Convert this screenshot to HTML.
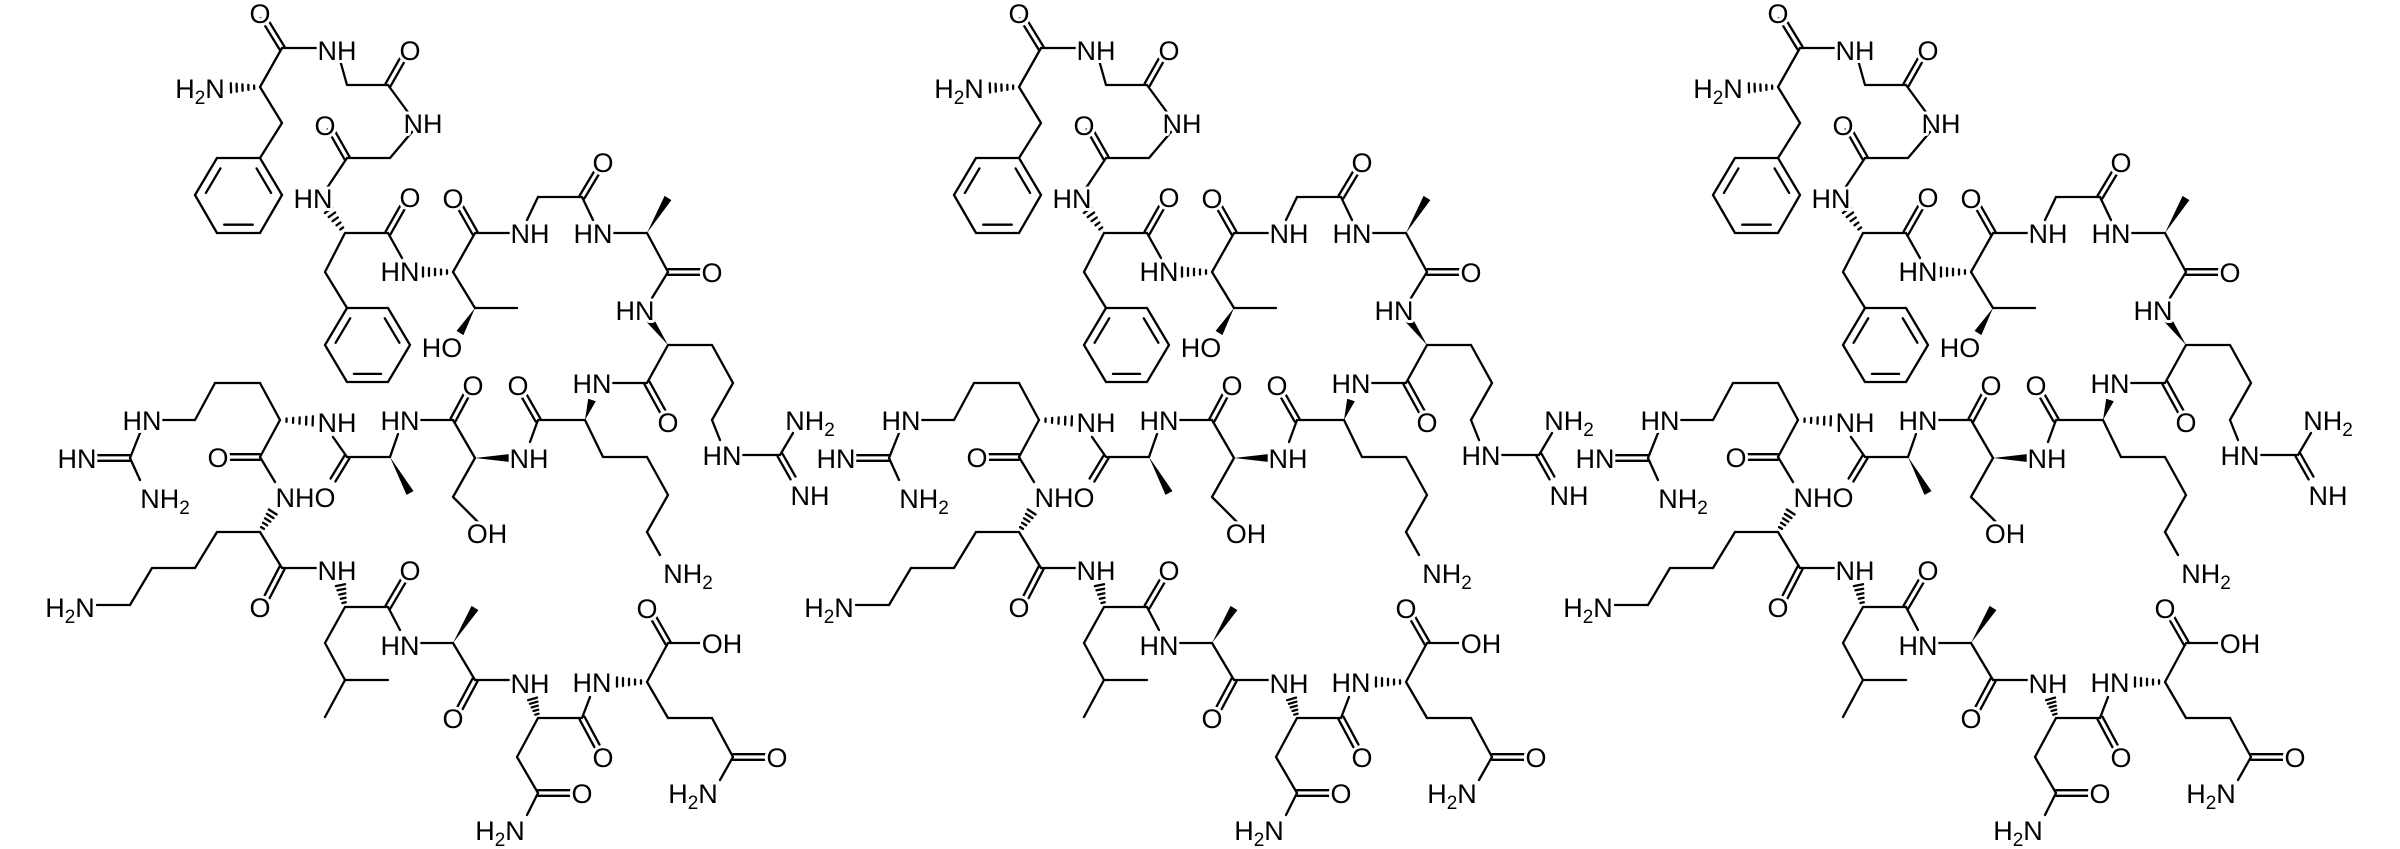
<!DOCTYPE html>
<html><head><meta charset="utf-8"><style>
html,body{margin:0;padding:0;background:#fff;}
svg{display:block;}
text{font-family:"Liberation Sans",Arial,sans-serif;font-size:27px;fill:#000;text-anchor:middle;stroke:#fff;stroke-width:6px;paint-order:stroke;stroke-linejoin:round;}
tspan.s{font-size:19px;}
</style></head><body>
<svg xmlns="http://www.w3.org/2000/svg" width="2400" height="849" viewBox="0 0 2400 849">
<rect width="2400" height="849" fill="#fff"/>
<g id="b" stroke="#000" stroke-width="2.3" fill="none" stroke-linecap="round"></g>
<g id="t0">
<text x="200" y="98">H<tspan class="s" dy="6">2</tspan><tspan dy="-6">N</tspan></text>
<text x="260" y="23">O</text><text x="337" y="60">NH</text><text x="410" y="60">O</text>
<text x="423" y="133">NH</text><text x="325" y="135">O</text><text x="313" y="208">HN</text>
<text x="410" y="207">O</text><text x="453" y="208">O</text><text x="400" y="281">HN</text>
<text x="530" y="243">NH</text><text x="603" y="172">O</text><text x="593" y="243">HN</text>
<text x="712" y="282">O</text><text x="635" y="320">HN</text><text x="442" y="357">HO</text>
<text x="473" y="395">O</text><text x="518" y="395">O</text><text x="592" y="393">HN</text>
<text x="668" y="432">O</text><text x="722" y="465">HN</text>
<text x="810" y="430">NH<tspan class="s" dy="6">2</tspan></text><text x="810" y="505">NH</text>
<text x="142" y="430">HN</text><text x="77" y="468">HN</text>
<text x="165" y="508">NH<tspan class="s" dy="6">2</tspan></text>
<text x="218" y="467">O</text><text x="295" y="507">NH</text><text x="325" y="507">O</text>
<text x="337" y="432">NH</text>
<text x="400" y="430">HN</text><text x="529" y="468">NH</text><text x="487" y="543">OH</text>
<text x="688" y="583">NH<tspan class="s" dy="6">2</tspan></text>
<text x="70" y="617">H<tspan class="s" dy="6">2</tspan><tspan dy="-6">N</tspan></text>
<text x="260" y="617">O</text><text x="337" y="580">NH</text><text x="410" y="580">O</text>
<text x="400" y="655">HN</text><text x="453" y="728">O</text><text x="530" y="693">NH</text>
<text x="592" y="692">HN</text><text x="647" y="618">O</text><text x="722" y="653">OH</text>
<text x="603" y="767">O</text><text x="582" y="803">O</text>
<text x="500" y="840">H<tspan class="s" dy="6">2</tspan><tspan dy="-6">N</tspan></text>
<text x="777" y="767">O</text>
<text x="693" y="803">H<tspan class="s" dy="6">2</tspan><tspan dy="-6">N</tspan></text>
</g>
<g transform="translate(759,0)">
<text x="200" y="98">H<tspan class="s" dy="6">2</tspan><tspan dy="-6">N</tspan></text>
<text x="260" y="23">O</text><text x="337" y="60">NH</text><text x="410" y="60">O</text>
<text x="423" y="133">NH</text><text x="325" y="135">O</text><text x="313" y="208">HN</text>
<text x="410" y="207">O</text><text x="453" y="208">O</text><text x="400" y="281">HN</text>
<text x="530" y="243">NH</text><text x="603" y="172">O</text><text x="593" y="243">HN</text>
<text x="712" y="282">O</text><text x="635" y="320">HN</text><text x="442" y="357">HO</text>
<text x="473" y="395">O</text><text x="518" y="395">O</text><text x="592" y="393">HN</text>
<text x="668" y="432">O</text><text x="722" y="465">HN</text>
<text x="810" y="430">NH<tspan class="s" dy="6">2</tspan></text><text x="810" y="505">NH</text>
<text x="142" y="430">HN</text><text x="77" y="468">HN</text>
<text x="165" y="508">NH<tspan class="s" dy="6">2</tspan></text>
<text x="218" y="467">O</text><text x="295" y="507">NH</text><text x="325" y="507">O</text>
<text x="337" y="432">NH</text>
<text x="400" y="430">HN</text><text x="529" y="468">NH</text><text x="487" y="543">OH</text>
<text x="688" y="583">NH<tspan class="s" dy="6">2</tspan></text>
<text x="70" y="617">H<tspan class="s" dy="6">2</tspan><tspan dy="-6">N</tspan></text>
<text x="260" y="617">O</text><text x="337" y="580">NH</text><text x="410" y="580">O</text>
<text x="400" y="655">HN</text><text x="453" y="728">O</text><text x="530" y="693">NH</text>
<text x="592" y="692">HN</text><text x="647" y="618">O</text><text x="722" y="653">OH</text>
<text x="603" y="767">O</text><text x="582" y="803">O</text>
<text x="500" y="840">H<tspan class="s" dy="6">2</tspan><tspan dy="-6">N</tspan></text>
<text x="777" y="767">O</text>
<text x="693" y="803">H<tspan class="s" dy="6">2</tspan><tspan dy="-6">N</tspan></text>
</g>
<g transform="translate(1518,0)">
<text x="200" y="98">H<tspan class="s" dy="6">2</tspan><tspan dy="-6">N</tspan></text>
<text x="260" y="23">O</text><text x="337" y="60">NH</text><text x="410" y="60">O</text>
<text x="423" y="133">NH</text><text x="325" y="135">O</text><text x="313" y="208">HN</text>
<text x="410" y="207">O</text><text x="453" y="208">O</text><text x="400" y="281">HN</text>
<text x="530" y="243">NH</text><text x="603" y="172">O</text><text x="593" y="243">HN</text>
<text x="712" y="282">O</text><text x="635" y="320">HN</text><text x="442" y="357">HO</text>
<text x="473" y="395">O</text><text x="518" y="395">O</text><text x="592" y="393">HN</text>
<text x="668" y="432">O</text><text x="722" y="465">HN</text>
<text x="810" y="430">NH<tspan class="s" dy="6">2</tspan></text><text x="810" y="505">NH</text>
<text x="142" y="430">HN</text><text x="77" y="468">HN</text>
<text x="165" y="508">NH<tspan class="s" dy="6">2</tspan></text>
<text x="218" y="467">O</text><text x="295" y="507">NH</text><text x="325" y="507">O</text>
<text x="337" y="432">NH</text>
<text x="400" y="430">HN</text><text x="529" y="468">NH</text><text x="487" y="543">OH</text>
<text x="688" y="583">NH<tspan class="s" dy="6">2</tspan></text>
<text x="70" y="617">H<tspan class="s" dy="6">2</tspan><tspan dy="-6">N</tspan></text>
<text x="260" y="617">O</text><text x="337" y="580">NH</text><text x="410" y="580">O</text>
<text x="400" y="655">HN</text><text x="453" y="728">O</text><text x="530" y="693">NH</text>
<text x="592" y="692">HN</text><text x="647" y="618">O</text><text x="722" y="653">OH</text>
<text x="603" y="767">O</text><text x="582" y="803">O</text>
<text x="500" y="840">H<tspan class="s" dy="6">2</tspan><tspan dy="-6">N</tspan></text>
<text x="777" y="767">O</text>
<text x="693" y="803">H<tspan class="s" dy="6">2</tspan><tspan dy="-6">N</tspan></text>
</g>
</svg>
<script>
(function(){
var S=[260,87,282,48, 282,48,318,48, 260,87,282,123, 282,123,260,158, 340,60,347,85, 347,85,388,85, 388,85,410,115, 412,132,390,158, 390,158,347,158, 347,158,327,188, 345,233,388,233, 388,233,402,258, 345,233,325,272, 325,272,347,308, 453,272,475,233, 475,233,516,233, 453,272,475,308, 475,308,517,308, 527,220,538,197, 538,197,582,197, 582,197,593,220, 612,233,647,233, 647,233,668,272, 668,272,652,298, 668,345,712,345, 712,345,733,383, 733,383,712,420, 712,420,720,440, 742,455,780,455, 780,455,793,433, 668,345,647,383, 647,383,612,383, 585,420,538,420, 538,420,530,442, 585,420,603,457, 603,457,647,457, 647,457,668,495, 668,495,647,532, 647,532,660,555, 475,458,453,420, 453,420,418,420, 475,458,453,497, 453,497,478,522, 398,434,390,457, 390,457,347,457, 347,457,333,437, 280,420,260,383, 260,383,215,383, 215,383,195,420, 195,420,160,420, 140,433,130,458, 130,458,140,480, 280,420,260,457, 260,457,275,482, 260,532,217,532, 217,532,195,568, 195,568,152,568, 152,568,130,605, 130,605,97,605, 260,532,282,568, 282,568,318,568, 345,607,388,607, 388,607,400,630, 345,607,325,643, 325,643,345,680, 345,680,388,680, 345,680,325,717, 420,643,453,643, 453,643,475,680, 475,680,516,680, 538,718,582,718, 582,718,590,697, 538,718,517,757, 517,757,538,793, 538,793,527,815, 647,682,668,643, 668,643,705,643, 647,682,668,718, 668,718,712,718, 712,718,733,757, 733,757,720,780];
var D=[282,48,263,17, 388,85,405,55, 347,158,330,128, 388,233,405,203, 475,233,458,203, 582,197,600,167, 668,272,703,272, 780,455,793,478, 647,383,663,412, 538,420,522,392, 453,420,468,392, 347,457,333,480, 260,457,228,457, 130,458,97,458, 282,568,267,597, 388,607,405,578, 475,680,460,708, 582,718,597,746, 538,793,572,793, 668,643,652,615, 733,757,767,757];
var W=[475,308,460,333, 647,233,668,198, 668,345,650,320, 585,420,592,400, 475,458,510,458, 390,457,410,493, 453,643,475,608];
var H=[260,87,228,88, 345,233,327,208, 453,272,420,272, 280,420,316,421, 260,532,274,510, 345,607,340,583, 538,718,532,697, 647,682,614,682];
var R=[[[217,158],[260,158],[282,195],[260,233],[217,233],[195,195]],[[347,308],[388,308],[410,345],[388,382],[347,382],[325,345]]];
var d='',f='';
function L(a,b,c,e){d+='M'+a.toFixed(1)+' '+b.toFixed(1)+'L'+c.toFixed(1)+' '+e.toFixed(1);}
var offs=[0,759,1518];
offs.forEach(function(o){
 var i;
 for(i=0;i<S.length;i+=4)L(S[i]+o,S[i+1],S[i+2]+o,S[i+3]);
 for(i=0;i<D.length;i+=4){var x1=D[i]+o,y1=D[i+1],x2=D[i+2]+o,y2=D[i+3];var dx=x2-x1,dy=y2-y1,l=Math.hypot(dx,dy),nx=-dy/l*2.8,ny=dx/l*2.8;L(x1+nx,y1+ny,x2+nx,y2+ny);L(x1-nx,y1-ny,x2-nx,y2-ny);}
 for(i=0;i<W.length;i+=4){var x1=W[i]+o,y1=W[i+1],x2=W[i+2]+o,y2=W[i+3];var dx=x2-x1,dy=y2-y1,l=Math.hypot(dx,dy),nx=-dy/l*4,ny=dx/l*4;f+='M'+x1+' '+y1+'L'+(x2+nx).toFixed(1)+' '+(y2+ny).toFixed(1)+'L'+(x2-nx).toFixed(1)+' '+(y2-ny).toFixed(1)+'Z';}
 for(i=0;i<H.length;i+=4){var x1=H[i]+o,y1=H[i+1],x2=H[i+2]+o,y2=H[i+3];var dx=x2-x1,dy=y2-y1,l=Math.hypot(dx,dy),ux=-dy/l,uy=dx/l;for(var k=1;k<=5;k++){var t=k/5.5,cx=x1+dx*t,cy=y1+dy*t,w=1+4*t;L(cx+ux*w,cy+uy*w,cx-ux*w,cy-uy*w);}}
 R.forEach(function(r){var cx=0,cy=0;r.forEach(function(p){cx+=p[0];cy+=p[1];});cx=cx/6+o;cy/=6;
  for(var j=0;j<6;j++){var p=r[j],q=r[(j+1)%6];L(p[0]+o,p[1],q[0]+o,q[1]);}
  [1,3,5].forEach(function(j){var p=r[j],q=r[(j+1)%6];var ax=p[0]+o,ay=p[1],bx=q[0]+o,by=q[1];
   var s=0.78;var ax2=cx+(ax-cx)*s,ay2=cy+(ay-cy)*s,bx2=cx+(bx-cx)*s,by2=cy+(by-cy)*s;
   var mx=(ax2+bx2)/2,my=(ay2+by2)/2,k=0.85;L(mx+(ax2-mx)*k,my+(ay2-my)*k,mx+(bx2-mx)*k,my+(by2-my)*k);});
 });
});
var ns='http://www.w3.org/2000/svg',g=document.getElementById('b');
var p=document.createElementNS(ns,'path');p.setAttribute('d',d);g.appendChild(p);
var p2=document.createElementNS(ns,'path');p2.setAttribute('d',f);p2.setAttribute('fill','#000');p2.setAttribute('stroke','none');g.appendChild(p2);
})();
</script>
</body></html>
